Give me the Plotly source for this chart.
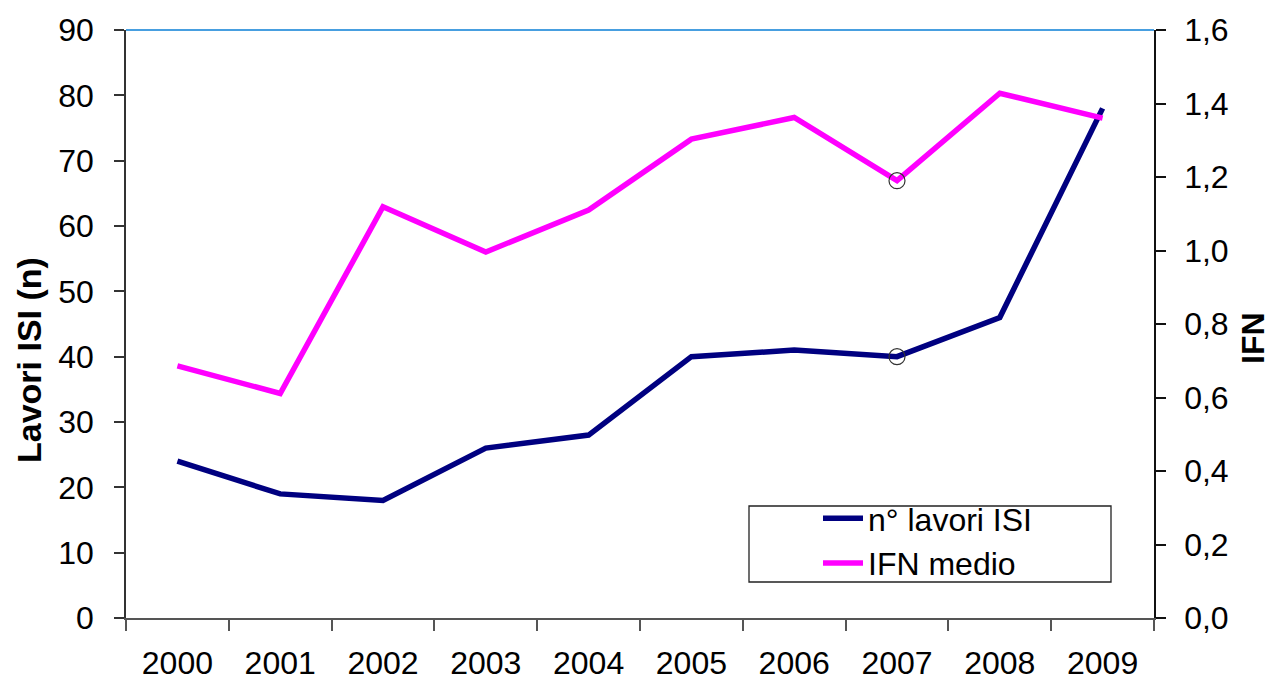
import plotly.graph_objects as go

years = ["2000", "2001", "2002", "2003", "2004", "2005", "2006", "2007", "2008", "2009"]
lavori_isi = [24, 19, 18, 26, 28, 40, 41, 40, 46, 78]
ifn_medio = [0.686, 0.611, 1.119, 0.996, 1.110, 1.303, 1.362, 1.190, 1.428, 1.360]
highlight_idx = 7

FONT = "Liberation Sans, Arial, sans-serif"

# page body has an 8px margin: place the plot area at absolute (126..1154, 30..618)
PL, PR, PT, PB = 126, 1154, 30, 618
OFF = 8
W, H = 1274 - OFF, 681 - OFF
PW, PH = PR - PL, PB - PT


def px(x):
    return (x - PL) / PW


def py(y):
    return (PB - y) / PH


fig = go.Figure()
fig.add_trace(go.Scatter(x=years, y=lavori_isi, mode="lines", name="n° lavori ISI",
                         line=dict(color="#000080", width=5.5), yaxis="y"))
fig.add_trace(go.Scatter(x=years, y=ifn_medio, mode="lines", name="IFN medio",
                         line=dict(color="#FF00FF", width=5.5), yaxis="y2"))
fig.add_trace(go.Scatter(x=[years[highlight_idx]], y=[lavori_isi[highlight_idx]], mode="markers",
                         marker=dict(symbol="circle-open", size=16, color="#333333", line=dict(width=1.2)),
                         showlegend=False, yaxis="y", hoverinfo="skip"))
fig.add_trace(go.Scatter(x=[years[highlight_idx]], y=[ifn_medio[highlight_idx]], mode="markers",
                         marker=dict(symbol="circle-open", size=16, color="#333333", line=dict(width=1.2)),
                         showlegend=False, yaxis="y2", hoverinfo="skip"))

fig.update_layout(
    width=W, height=H,
    margin=dict(l=PL - OFF, r=W + OFF - PR, t=PT - OFF, b=H + OFF - PB, autoexpand=False),
    paper_bgcolor="white", plot_bgcolor="white",
    separators=",.",
    font=dict(family=FONT, size=32, color="black"),
    xaxis=dict(type="category", range=[-0.5, 9.5], tickson="boundaries",
               ticks="outside", ticklen=11, tickwidth=1.5, tickcolor="#555555",
               showline=True, linecolor="#555555", linewidth=1.5,
               showgrid=False, zeroline=False, ticklabelstandoff=16,
               tickfont=dict(size=32, family=FONT)),
    yaxis=dict(range=[0, 90], dtick=10, ticks="outside", ticklen=10, tickwidth=1.5,
               tickcolor="#333333", showline=True, linecolor="#333333", linewidth=1.5,
               showgrid=False, zeroline=False, ticklabelstandoff=14,
               tickfont=dict(size=32, family=FONT)),
    yaxis2=dict(range=[0, 1.6], dtick=0.2, tickformat=".1f", overlaying="y", side="right",
                ticks="outside", ticklen=10, tickwidth=1.5, tickcolor="#111111",
                showline=True, linecolor="#111111", linewidth=1.5,
                showgrid=False, zeroline=False, ticklabelstandoff=12,
                tickfont=dict(size=32, family=FONT)),
    showlegend=True,
    legend=dict(x=px(818), y=py(491), xanchor="left", yanchor="top",
                bgcolor="rgba(0,0,0,0)", borderwidth=0,
                font=dict(size=32, family=FONT), itemwidth=40, tracegroupgap=0),
    shapes=[
        dict(type="line", xref="paper", yref="paper", x0=0, x1=1, y0=1, y1=1,
             line=dict(color="#0B7FD6", width=1.5)),
        dict(type="rect", xref="paper", yref="paper",
             x0=px(749), x1=px(1111), y0=py(582), y1=py(506),
             line=dict(color="#222222", width=1.3), fillcolor="rgba(255,255,255,0)"),
    ],
    annotations=[
        dict(text="<b>Lavori ISI (n)</b>", xref="paper", yref="paper",
             x=px(29), y=py(360), xanchor="center", yanchor="middle",
             textangle=-90, showarrow=False, font=dict(size=34, family=FONT)),
        dict(text="<b>IFN</b>", xref="paper", yref="paper",
             x=px(1253), y=py(338), xanchor="center", yanchor="middle",
             textangle=-90, showarrow=False, font=dict(size=32, family=FONT)),
    ],
)

fig.write_html("out.html")
